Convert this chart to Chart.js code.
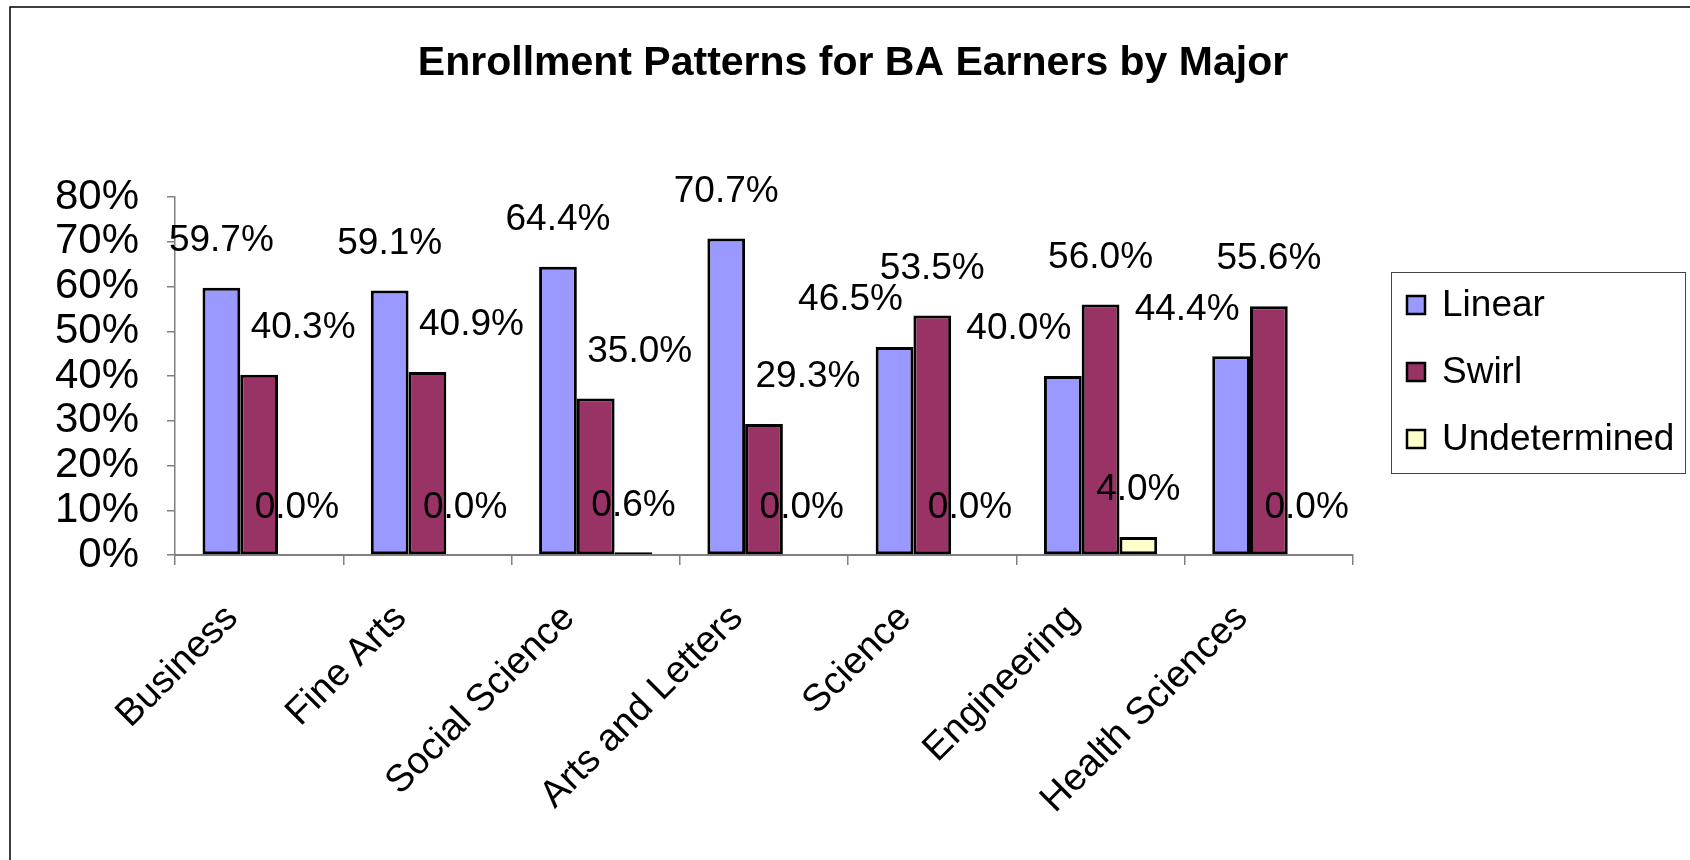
<!DOCTYPE html>
<html>
<head>
<meta charset="utf-8">
<title>Enrollment Patterns for BA Earners by Major</title>
<script src="https://cdn.jsdelivr.net/npm/chart.js@4.4.1/dist/chart.umd.min.js"></script>
<style>
  body { margin: 0; background: #fff; }
  #chart { display: block; }
</style>
</head>
<body>
<canvas id="chart" width="1690" height="860"></canvas>
<script>
const majors = ["Business", "Fine Arts", "Social Science", "Arts and Letters", "Science", "Engineering", "Health Sciences"];
const linear = [59.7, 59.1, 64.4, 70.7, 46.5, 40.0, 44.4];
const swirl = [40.3, 40.9, 35.0, 29.3, 53.5, 56.0, 55.6];
const undetermined = [0.0, 0.0, 0.6, 0.0, 0.0, 4.0, 0.0];
const yTicks = [0, 10, 20, 30, 40, 50, 60, 70, 80];
const titulo = "Enrollment Patterns for BA Earners by Major";

const fuente = "'Liberation Sans', Arial, sans-serif";

// white background, outer frame and the title (centred on the whole picture)
const marco = {
  id: "marco",
  beforeDraw(chart) {
    const ctx = chart.ctx;
    ctx.save();
    ctx.fillStyle = "#fff";
    ctx.fillRect(0, 0, chart.width, chart.height);
    ctx.strokeStyle = "#000";
    ctx.lineWidth = 1.5;
    ctx.strokeRect(10, 7, chart.width + 20, chart.height + 20);
    ctx.fillStyle = "#000";
    ctx.font = "bold 41px " + fuente;
    ctx.textAlign = "center";
    ctx.textBaseline = "alphabetic";
    ctx.fillText(titulo, 853, 75);
    ctx.restore();
  }
};

// value labels above every bar; the shorter of linear/swirl is pushed sideways
const etiquetas = {
  id: "etiquetas",
  afterDatasetsDraw(chart) {
    const ctx = chart.ctx;
    ctx.save();
    ctx.font = "37px " + fuente;
    ctx.fillStyle = "#000";
    ctx.textAlign = "center";
    ctx.textBaseline = "middle";
    chart.data.datasets.forEach((ds, i) => {
      const meta = chart.getDatasetMeta(i);
      meta.data.forEach((bar, j) => {
        let dx = 0;
        if (i === 0 && linear[j] < swirl[j]) dx = -44;
        if (i === 1 && swirl[j] < linear[j]) dx = 44;
        ctx.fillText(ds.data[j].toFixed(1) + "%", bar.x + dx, bar.y - 47);
      });
    });
    ctx.restore();
  }
};

// legend box on the right, with a frame like the original
const leyenda = {
  id: "leyenda",
  afterDraw(chart) {
    const ctx = chart.ctx;
    const x = chart.chartArea.right + 38;
    const y = 272;
    ctx.save();
    ctx.strokeStyle = "#444";
    ctx.lineWidth = 1;
    ctx.strokeRect(x + 0.5, y + 0.5, 294, 201);
    ctx.font = "37px " + fuente;
    ctx.textAlign = "left";
    ctx.textBaseline = "middle";
    chart.data.datasets.forEach((ds, i) => {
      const cy = y + 33 + i * 67;
      ctx.fillStyle = ds.backgroundColor;
      ctx.fillRect(x + 16, cy - 9, 18, 18);
      ctx.strokeStyle = "#000";
      ctx.lineWidth = 2.5;
      ctx.strokeRect(x + 16, cy - 9, 18, 18);
      ctx.fillStyle = "#000";
      ctx.fillText(ds.label, x + 51, cy + 1);
    });
    ctx.restore();
  }
};

const grafico = new Chart(document.getElementById("chart"), {
  type: "bar",
  data: {
    labels: majors,
    datasets: [
      { label: "Linear", data: linear, backgroundColor: "#9999FF" },
      { label: "Swirl", data: swirl, backgroundColor: "#993366" },
      { label: "Undetermined", data: undetermined, backgroundColor: "#FFFFCC" }
    ].map(d => Object.assign(d, {
      borderColor: "#000",
      borderWidth: 3,
      borderSkipped: false,
      categoryPercentage: 0.673,
      barPercentage: 1
    }))
  },
  options: {
    responsive: false,
    animation: false,
    devicePixelRatio: 1,
    layout: { padding: { left: 0, right: 337, top: 197, bottom: 0 } },
    plugins: {
      legend: { display: false },
      tooltip: { enabled: false },
      title: { display: false }
    },
    scales: {
      x: {
        afterFit(scale) { scale.height = 305; },
        grid: {
          offset: true,
          drawOnChartArea: false,
          drawTicks: true,
          tickLength: 10,
          color: "#808080",
          lineWidth: 1.5
        },
        border: { display: true, color: "#808080", width: 2 },
        ticks: {
          color: "#000",
          font: { family: fuente, size: 38 },
          minRotation: 45,
          maxRotation: 45,
          autoSkip: false,
          labelOffset: -27,
          padding: 31
        }
      },
      y: {
        min: 0,
        max: 80,
        afterFit(scale) { scale.width = 175; },
        afterBuildTicks(scale) { scale.ticks = yTicks.map(v => ({ value: v })); },
        grid: {
          drawOnChartArea: false,
          drawTicks: true,
          tickLength: 8,
          color: "#808080",
          lineWidth: 1.5
        },
        border: { display: true, color: "#808080", width: 1.5 },
        ticks: {
          color: "#000",
          font: { family: fuente, size: 42 },
          autoSkip: false,
          padding: 28,
          callback: v => v + "%"
        }
      }
    }
  },
  plugins: [marco, etiquetas, leyenda]
});
</script>
</body>
</html>
